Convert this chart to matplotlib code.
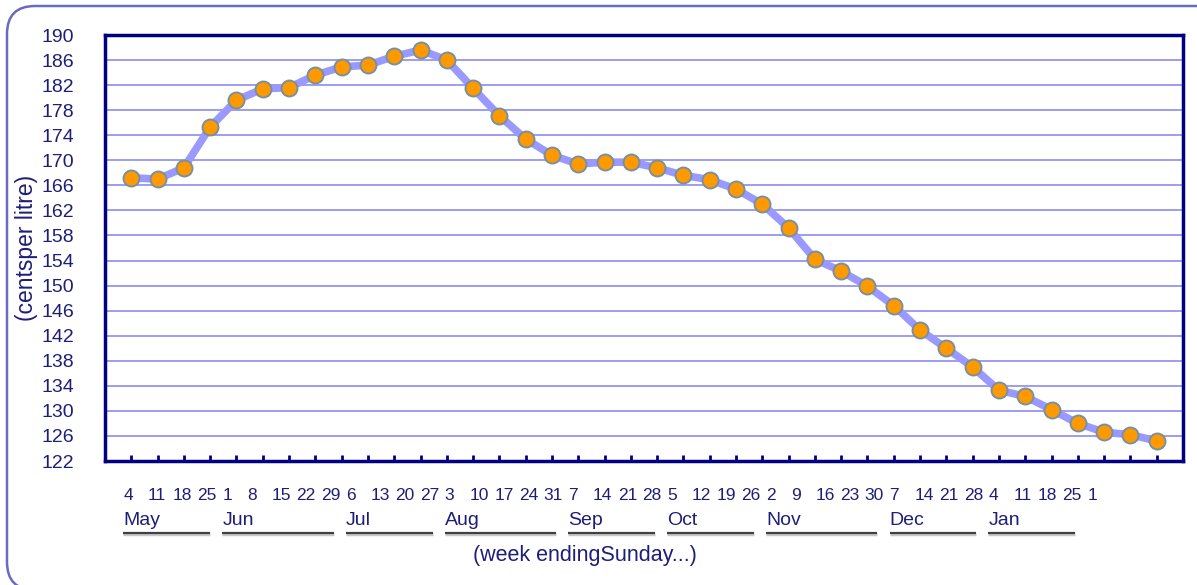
import numpy as np
import matplotlib
matplotlib.use('Agg')
import matplotlib.pyplot as plt
from matplotlib.patches import FancyBboxPatch
from matplotlib.transforms import IdentityTransform

# Weekly petrol price (cents per litre), week ending Sunday
week_day = [4, 11, 18, 25,
            1, 8, 15, 22, 29,
            6, 13, 20, 27,
            3, 10, 17, 24, 31,
            7, 14, 21, 28,
            5, 12, 19, 26,
            2, 9, 16, 23, 30,
            7, 14, 21, 28,
            4, 11, 18, 25,
            1]
month_names = ['May', 'Jun', 'Jul', 'Aug', 'Sep', 'Oct', 'Nov', 'Dec', 'Jan']
price = [167.2, 167.0, 168.8, 175.3,
         179.6, 181.4, 181.6, 183.6, 184.9,
         185.2, 186.6, 187.6, 186.0,
         181.5, 177.1, 173.4, 170.8, 169.4,
         169.7, 169.7, 168.8, 167.6,
         166.9, 165.4, 163.0, 159.2,
         154.2, 152.3, 149.9, 146.8, 142.9,
         140.0, 137.0, 133.3, 132.3,
         130.2, 128.0, 126.6, 126.2,
         125.2]
y_ticks = list(range(122, 191, 4))

NAVY = '#000080'
TEXT = '#1e1e78'

plt.rcParams['font.family'] = ['Liberation Sans', 'DejaVu Sans']

fig = plt.figure(figsize=(11.97, 5.85), dpi=100)
fig.patch.set_facecolor('white')

# rounded outer frame (right and bottom edges run off the image)
frame = FancyBboxPatch((7, -5), 1220, 584, boxstyle='round,pad=0,rounding_size=28',
                       transform=IdentityTransform(), facecolor='none',
                       edgecolor='#6a6ac0', linewidth=1.8, zorder=0)
fig.patches.append(frame)

ax = fig.add_axes([105 / 1197, 124 / 585, 1078 / 1197, 426 / 585])
x = np.arange(len(price))

ax.plot(x, price, color='#9999ff', linewidth=5.5, solid_joinstyle='round',
        solid_capstyle='round', zorder=3)
ax.plot(x, price, linestyle='none', marker='o', markersize=11.5,
        markerfacecolor='#ff9900', markeredgecolor='#7890a0',
        markeredgewidth=1.4, zorder=4)

ax.set_xlim(-1, 40)
ax.set_ylim(122, 190)
ax.set_yticks(y_ticks)
ax.set_yticklabels([str(v) for v in y_ticks], fontsize=14, color=TEXT)
ax.set_xticks(x)
ax.set_xticklabels([])
ax.tick_params(axis='y', length=0, pad=22)
ax.tick_params(axis='x', direction='in', length=4, width=2, color=NAVY)
ax.yaxis.grid(True, color='#9c9cf2', linewidth=1.4)
ax.set_axisbelow(True)
for sp in ax.spines.values():
    sp.set_color(NAVY)
    sp.set_linewidth(2.5)

ax.set_ylabel('(centsper litre)', fontsize=16.5, color=TEXT, labelpad=3)

# week / month labels below the axis (label row is slightly narrower than the axis)
trans = ax.get_xaxis_transform()
lab_x0, lab_step = -0.30, 0.94
lab_x = [lab_x0 + lab_step * i for i in range(len(week_day))]
for lx, d in zip(lab_x, week_day):
    ax.text(lx, -0.082, str(d), transform=trans, ha='left', va='center',
            fontsize=12.5, color=TEXT, clip_on=False)

starts = [0] + [i for i in range(1, len(week_day)) if week_day[i] < week_day[i - 1]]
for m, name in enumerate(month_names):
    x0 = lab_x[starts[m]]
    x1 = lab_x[starts[m + 1]] - 0.46
    ax.text(x0, -0.14, name, transform=trans, ha='left', va='center',
            fontsize=14, color=TEXT, clip_on=False)
    ax.plot([x0, x1], [-0.172, -0.172], transform=trans, color='#c8c8c8',
            linewidth=2.5, clip_on=False, solid_capstyle='butt')
    ax.plot([x0, x1], [-0.169, -0.169], transform=trans, color='#404040',
            linewidth=1.6, clip_on=False, solid_capstyle='butt')

ax.text(585, 30, '(week endingSunday...)', transform=IdentityTransform(),
        ha='center', va='center', fontsize=15.5, color=TEXT)

fig.savefig('out.png', dpi=100, facecolor='white')
